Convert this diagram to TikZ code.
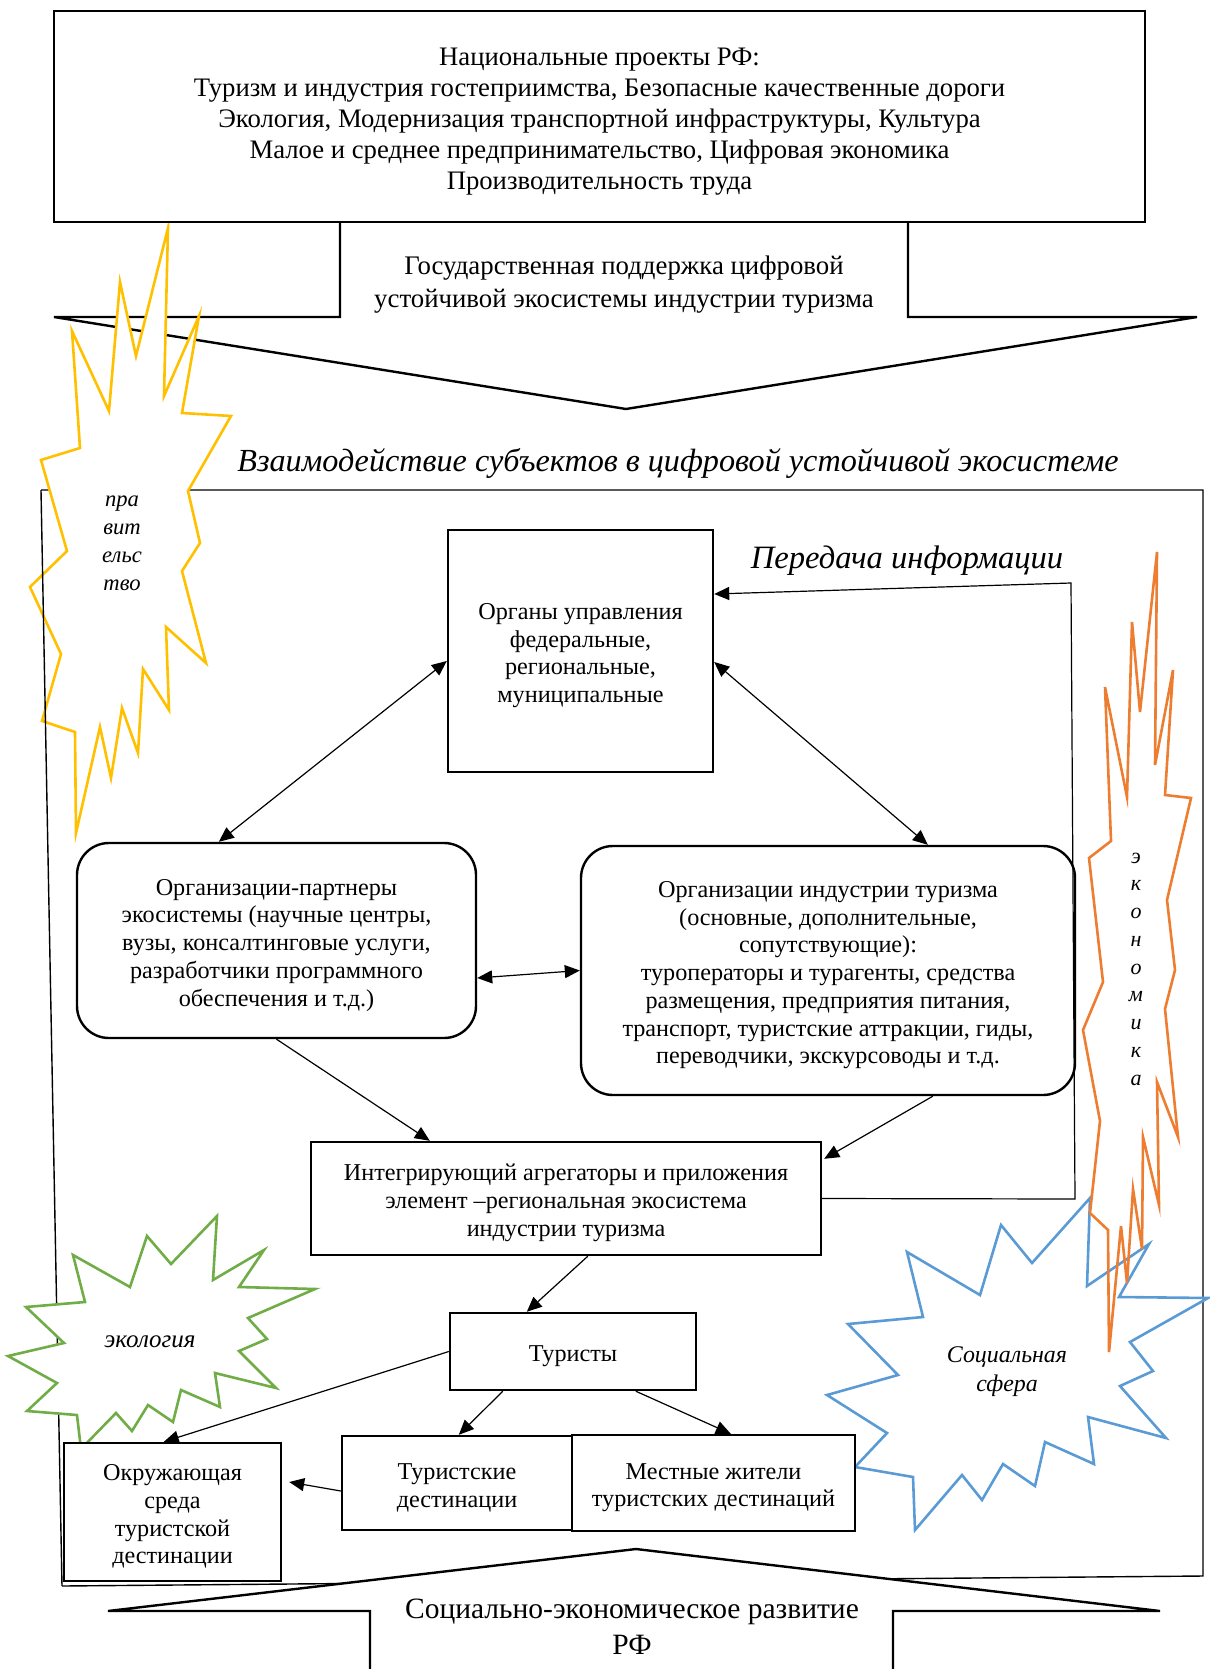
\documentclass[tikz,border=0pt]{standalone}
\usepackage{fontspec}
\setmainfont{Liberation Serif}
\usetikzlibrary{arrows.meta}
\definecolor{yel}{HTML}{FFC000}
\definecolor{ora}{HTML}{ED7D31}
\definecolor{blu}{HTML}{5B9BD5}
\definecolor{gre}{HTML}{70AD47}
\newcommand\tstrut{\rule{0pt}{1.05em}}
\begin{document}
\begin{tikzpicture}[x=1pt,y=-1pt,
  box/.style={draw, line width=2.4pt, fill=white, align=center, inner sep=0pt},
  rbox/.style={box, rounded corners=32pt},
  conn/.style={line width=1.2pt, -{Triangle[length=15pt,width=13pt]}},
  dconn/.style={line width=1.2pt, {Triangle[length=15pt,width=13pt]}-{Triangle[length=15pt,width=13pt]}},
  frame/.style={line width=1.4pt},
  bigarrow/.style={line width=2.4pt, fill=white},
  starshape/.style={line width=2.6pt, fill=white},
  txt/.style={align=center, inner sep=0pt},
  fbody/.style={font=\fontsize{24.2}{27.7}\selectfont},
  fstar/.style={font=\itshape\fontsize{22.6}{28}\selectfont},
]
\useasboundingbox (0,0) rectangle (1209,1669);

% outer frame (top, right, bottom)
\coordinate (fTL) at (41,490);
\coordinate (fTR) at (1203,490);
\coordinate (fBR) at (1203,1576);
\coordinate (fBL) at (62,1586);
\draw[frame] (fTL) -- (fTR) -- (fBR) -- (fBL);

% big arrows
\draw[bigarrow] (340,222) -- (340,317) -- (54,317) -- (626,409) -- (1197,317) -- (908,317) -- (908,222);
\draw[bigarrow] (370,1680) -- (370,1611) -- (108,1611) -- (636,1549) -- (1160,1611) -- (893,1611) -- (893,1680);

\node[txt, font=\fontsize{26.8}{33}\selectfont] (gov) at (624,284.5) {Государственная поддержка цифровой\\устойчивой экосистемы индустрии туризма};
\node[txt, font=\fontsize{29.5}{36}\selectfont] (soc) at (632,1627) {Социально-экономическое развитие\\РФ};
\node[txt, font=\itshape\fontsize{32.2}{36}\selectfont] (title) at (678,463) {Взаимодействие субъектов в цифровой устойчивой экосистеме};
\node[txt, font=\itshape\fontsize{32.6}{36}\selectfont] (info) at (907,561) {Передача информации};

% yellow star
\draw[starshape, draw=yel] (168,228) -- (164,396) -- (199,316) -- (182,413) -- (231,416) -- (188,491) -- (200,543) -- (182,571) -- (206,663) -- (166,627) -- (169,710) -- (143,669) -- (138,753) -- (122,708) -- (111,778) -- (100,727) -- (76,833) -- (75,732) -- (42,721) -- (61,654) -- (30,587) -- (67,551) -- (41,460) -- (80,448) -- (72,331) -- (109,411) -- (120,282) -- (136,356) -- cycle;
\node[txt, fstar] (tY) at (122,543) {пра\\вит\\ельс\\тво};

% left frame side
\draw[frame] (fTL) -- (fBL);

% green star
\draw[starshape, draw=gre] (217,1216) -- (213,1280) -- (264,1250) -- (239,1287) -- (315,1289) -- (248,1318) -- (267,1339) -- (239,1351) -- (276,1388) -- (215,1373) -- (220,1407) -- (181,1390) -- (173,1422) -- (148,1405) -- (132,1431) -- (116,1413) -- (81,1449) -- (77,1415) -- (27,1411) -- (57,1383) -- (8,1356) -- (64,1343) -- (26,1307) -- (85,1302) -- (73,1255) -- (130,1287) -- (147,1236) -- (171,1264) -- cycle;
\node[txt, font=\itshape\fontsize{25}{29}\selectfont] (tG) at (150,1342) {экология};

% blue star
\draw[starshape, draw=blu] (1090,1198) -- (1032,1263) -- (1001,1225) -- (980,1295) -- (907,1252) -- (923,1317) -- (848,1324) -- (898,1375) -- (827,1395) -- (887,1433) -- (855,1467) -- (913,1477) -- (915,1530) -- (962,1475) -- (982,1500) -- (1003,1464) -- (1035,1486) -- (1045,1442) -- (1094,1464) -- (1088,1417) -- (1166,1438) -- (1120,1386) -- (1153,1371) -- (1130,1342) -- (1208,1298) -- (1119,1297) -- (1149,1244) -- (1087,1286) -- cycle;
\node[txt, font=\itshape\fontsize{23.9}{29}\selectfont] (tB) at (1007,1371.5) {Социальная\\сфера};

% orange star
\draw[line width=2.6pt, draw=ora] (1157,552) -- (1155,765) -- (1173,670) -- (1165,795) -- (1191,798) -- (1167,900) -- (1175,970) -- (1165,1009) -- (1178,1137) -- (1157,1082) -- (1159,1205) -- (1143,1137) -- (1142,1249) -- (1133,1189) -- (1127,1283) -- (1121,1226) -- (1109,1352) -- (1108,1230) -- (1090,1213) -- (1100,1121) -- (1083,1030) -- (1103,982) -- (1089,858) -- (1111,841) -- (1105,687) -- (1127,797) -- (1132,622) -- (1140,712) -- cycle;
\node[txt, font=\itshape\fontsize{22}{27.75}\selectfont] (tO) at (1136,969) {э\\к\\о\\н\\о\\м\\и\\к\\а};

% boxes
\node[box, minimum width=1091pt, minimum height=211pt, font=\fontsize{26.7}{31}\selectfont] (top) at (599.5,116.5)
  {\tstrut Национальные проекты РФ:\\Туризм и индустрия гостеприимства, Безопасные качественные дороги\\Экология, Модернизация транспортной инфраструктуры, Культура\\Малое и среднее предпринимательство, Цифровая экономика\\Производительность труда};
\node[box, fbody, minimum width=265pt, minimum height=242pt] (org) at (580.5,651)
  {\tstrut Органы управления\\федеральные,\\региональные,\\муниципальные};
\node[rbox, fbody, minimum width=399pt, minimum height=195pt] (lbox) at (276.5,940.5)
  {\tstrut Организации-партнеры\\экосистемы (научные центры,\\вузы, консалтинговые услуги,\\разработчики программного\\обеспечения и т.д.)};
\node[rbox, fbody, minimum width=494pt, minimum height=249pt] (rbox) at (828,970.5)
  {\tstrut Организации индустрии туризма\\(основные, дополнительные,\\сопутствующие):\\туроператоры и турагенты, средства\\размещения, предприятия питания,\\транспорт, туристские аттракции, гиды,\\переводчики, экскурсоводы и т.д.};
\node[box, fbody, minimum width=510pt, minimum height=113pt] (integ) at (566,1198.5)
  {\tstrut Интегрирующий агрегаторы и приложения\\элемент --региональная экосистема\\индустрии туризма};
\node[box, fbody, minimum width=246pt, minimum height=77pt] (tur) at (573,1351.5) {\tstrut Туристы};
\node[box, fbody, minimum width=230pt, minimum height=94pt] (tdest) at (457,1483) {\tstrut Туристские\\дестинации};
\node[box, fbody, minimum width=283pt, minimum height=96pt] (mest) at (713.5,1483) {\tstrut Местные жители\\туристских дестинаций};
\node[box, fbody, minimum width=217pt, minimum height=138pt] (okr) at (172.5,1512) {\tstrut Окружающая\\среда\\туристской\\дестинации};

% connectors
\draw[dconn] ([yshift=-10pt]org.west) -- ([xshift=143pt]lbox.north west);
\draw[dconn] ([yshift=-11pt]org.east) -- ([xshift=348pt]rbox.north west);
\draw[dconn] ([yshift=-37.5pt]lbox.east) -- (rbox.west);
\draw[conn] (lbox.south) -- ([xshift=120pt]integ.north west);
\draw[conn] ([xshift=353pt]rbox.south west) -- ([xshift=2pt,yshift=-18pt]integ.north east);
\coordinate (fb1) at (1075,1199);
\coordinate (fb2) at (1071,583);
\draw[conn] (integ.east) -- (fb1) -- (fb2) -- ([yshift=57pt]org.east);
\draw[conn] ([xshift=278pt]integ.south west) -- ([xshift=78pt]tur.north west);
\draw[conn] (tur.west) -- ([xshift=101pt]okr.north west);
\draw[conn] ([xshift=54pt]tur.south west) -- ([xshift=118pt]tdest.north west);
\draw[conn] ([xshift=187pt]tur.south west) -- ([xshift=160pt]mest.north west);
\draw[conn] ([yshift=-8pt]tdest.west) -- ([xshift=7pt,yshift=30pt]okr.east);
\end{tikzpicture}
\end{document}
